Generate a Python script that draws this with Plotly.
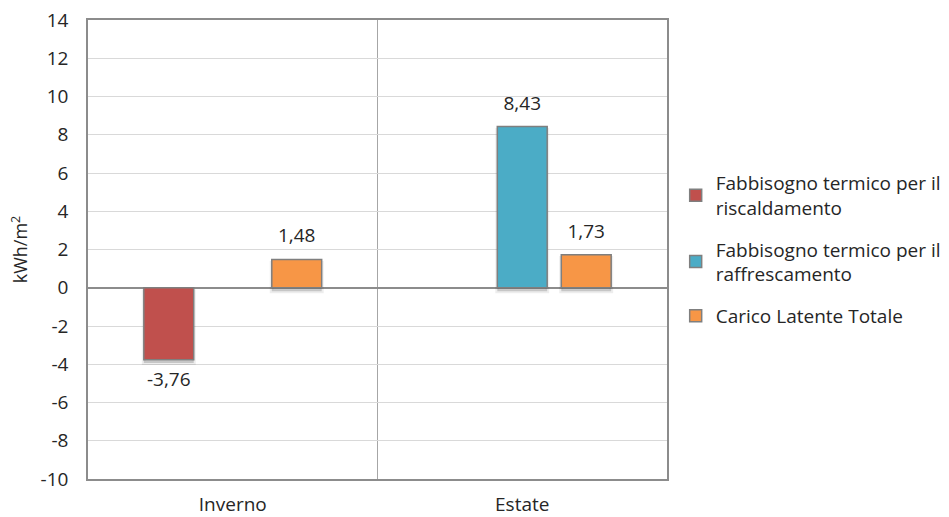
import plotly.graph_objects as go

# Seasons and thermal loads (kWh/m²)
seasons = ["Inverno", "Estate"]
riscaldamento = [-3.76, None]
raffrescamento = [None, 8.43]
carico_latente = [1.48, 1.73]

series_names = [
    "Fabbisogno termico per il<br>riscaldamento",
    "Fabbisogno termico per il<br>raffrescamento",
    "Carico Latente Totale",
]
series_keys = ["risc", "raffr", "lat"]
series_colors = ["#C0504D", "#4BACC6", "#F79646"]
y_ticks = list(range(-10, 15, 2))

FONT = "Open Sans"
TEXT_COLOR = "#262626"
SIZE = 19
SHADOW_DROP = 0.18  # vertical drop of the bar shadow, in axis units

all_values = [riscaldamento, raffrescamento, carico_latente]

fig = go.Figure()

# soft drop shadows behind the bars
for key, values in zip(series_keys, all_values):
    fig.add_trace(go.Bar(
        x=seasons,
        y=values,
        base=-SHADOW_DROP,
        offsetgroup=key,
        marker=dict(color="rgba(0,0,0,0.16)", line=dict(color="rgba(0,0,0,0.07)", width=4)),
        showlegend=False,
        hoverinfo="skip",
    ))

# the bars themselves
for key, name, values, color in zip(series_keys, series_names, all_values, series_colors):
    fig.add_trace(go.Bar(
        x=seasons,
        y=values,
        name=name,
        offsetgroup=key,
        legendgroup=key,
        marker=dict(color=color, line=dict(color="#7F7F7F", width=1.5)),
    ))

# value labels above positive bars and below negative ones
for key, values in zip(series_keys, all_values):
    fig.add_trace(go.Scatter(
        x=seasons,
        y=values,
        mode="markers+text",
        offsetgroup=key,
        marker=dict(size=18, color="rgba(0,0,0,0)"),
        text=[None if v is None else f"{v:.2f}".replace(".", ",") for v in values],
        textposition=["top center" if (v or 0) >= 0 else "bottom center" for v in values],
        textfont=dict(family=FONT, size=SIZE, color=TEXT_COLOR),
        cliponaxis=False,
        showlegend=False,
        hoverinfo="skip",
    ))

fig.update_layout(
    width=949,
    height=517,
    margin=dict(l=88, r=282, t=20, b=38, autoexpand=False),
    paper_bgcolor="white",
    plot_bgcolor="white",
    barmode="group",
    bargap=0.337,
    bargroupgap=0.22,
    scattermode="group",
    scattergap=0.337,
    font=dict(family=FONT, size=SIZE, color=TEXT_COLOR),
    showlegend=True,
    legend=dict(
        x=1.015, xanchor="left",
        y=0.5, yanchor="middle",
        font=dict(family=FONT, size=SIZE, color=TEXT_COLOR),
        tracegroupgap=14,
        itemwidth=30,
    ),
    xaxis=dict(
        type="category",
        automargin=False,
        tickson="boundaries",
        showgrid=True,
        gridcolor="#A6A6A6",
        gridwidth=1,
        showline=True,
        linecolor="#8C8C8C",
        linewidth=1.5,
        mirror=True,
        ticks="",
        ticklabelstandoff=7,
        tickfont=dict(family=FONT, size=SIZE, color=TEXT_COLOR),
    ),
    yaxis=dict(
        range=[-10, 14],
        automargin=False,
        tickvals=y_ticks,
        ticktext=[str(t) for t in y_ticks],
        showgrid=True,
        gridcolor="#D9D9D9",
        gridwidth=1,
        zeroline=True,
        zerolinecolor="#8C8C8C",
        zerolinewidth=1.5,
        showline=True,
        linecolor="#8C8C8C",
        linewidth=1.5,
        mirror=True,
        ticks="",
        ticklabelstandoff=14,
        title=dict(text="kWh/m<sup>2</sup>", font=dict(family=FONT, size=18, color=TEXT_COLOR), standoff=8),
        tickfont=dict(family=FONT, size=SIZE, color=TEXT_COLOR),
    ),
)

fig.write_html("out.html")
